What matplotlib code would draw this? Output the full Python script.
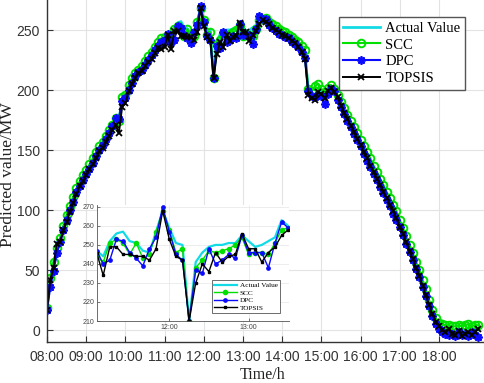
import matplotlib
matplotlib.use("Agg")
import matplotlib.pyplot as plt
import numpy as np

# time axis: 08:00 .. 19:00, 5 minute steps, in hours
t_start = 8.0
step_min = 5

actual = [17, 42, 56, 66, 75, 85, 94, 101, 109, 117, 122, 127, 131, 136, 141, 146, 151, 155, 160, 165,
          169, 176, 174, 193, 194, 202, 208, 213, 216, 218, 222, 226, 230, 234, 238, 240, 241,
          247, 244, 252, 256, 257, 252, 251, 247, 246, 257, 268, 259, 251, 250, 210, 241, 246, 249, 250,
          250, 251, 251, 255, 252, 249, 250, 252, 254, 263, 260,
          258, 255, 253, 251, 249, 248, 246, 244, 242, 240, 237, 234, 229,
          200, 197, 196, 200, 199, 195, 200, 203, 200, 194, 187, 181, 176, 171, 166, 160,
          155, 150, 144, 139, 133, 128, 122, 117, 111, 106, 100, 95,
          88, 81, 74, 67, 60, 53, 45, 38, 29, 21, 13, 7,
          4, 2, 1, 0, 0, 0, 0, 0, 0, 0, 0, 0, 0]

scc = [18, 43, 57, 68, 77, 87, 96, 103, 111, 118, 124, 129, 133, 138, 143, 148, 153, 157, 162, 167,
       171, 177, 174, 194, 196, 204, 210, 214, 217, 220, 224, 228, 232, 236, 240, 243, 244,
       244, 241, 251, 253, 251, 245, 251, 243, 245, 257, 268, 258, 246, 248, 210, 238, 242, 247, 246,
       247, 248, 250, 254, 245, 246, 246, 245, 251, 258, 259,
       260, 257, 255, 253, 251, 249, 248, 246, 244, 242, 240, 237, 233,
       201, 199, 203, 205, 201, 198, 202, 204, 201, 196, 190, 185, 179, 174, 169, 164,
       158, 153, 148, 143, 137, 132, 126, 121, 115, 110, 104, 99,
       92, 85, 78, 71, 64, 57, 50, 42, 34, 25, 17, 10,
       6, 5, 4, 4, 3, 3, 4, 3, 4, 5, 3, 4, 4]

dpc = [17, 36, 49, 64, 73, 83, 92, 100, 107, 115, 120, 125, 130, 134, 139, 145, 150, 154, 159, 164,
       170, 177, 176, 191, 193, 200, 206, 212, 215, 217, 221, 225, 229, 233, 237, 240, 242,
       247, 240, 242, 253, 252, 246, 243, 239, 248, 254, 270, 257, 245, 242, 210, 237, 235, 248, 240,
       242, 245, 243, 255, 246, 246, 246, 238, 251, 262, 259,
       259, 254, 252, 249, 247, 246, 244, 243, 240, 238, 236, 232, 227,
       199, 195, 194, 196, 195, 188, 197, 201, 199, 192, 186, 180, 174, 169, 163, 158,
       153, 147, 141, 136, 130, 125, 119, 114, 108, 103, 97, 92,
       86, 79, 72, 65, 58, 51, 44, 36, 28, 20, 12, 5,
       1, -2, -3, -4, -3, -5, -2, -4, -3, -5, -2, -4, -6]

topsis = [17, 42, 52, 72, 73, 83, 90, 98, 106, 113, 120, 124, 129, 134, 138, 143, 149, 152, 157, 162,
          167, 171, 164, 186, 189, 199, 205, 210, 214, 216, 220, 223, 226, 231, 235, 234, 236,
          246, 234, 249, 249, 245, 245, 244, 244, 242, 248, 268, 253, 244, 242, 210, 230, 240, 236, 246,
          241, 244, 245, 256, 248, 248, 241, 246, 249, 255, 258,
          257, 255, 252, 250, 248, 246, 245, 243, 241, 239, 236, 232, 226,
          196, 193, 192, 198, 197, 193, 199, 202, 198, 194, 187, 181, 176, 170, 165, 159,
          154, 148, 143, 137, 132, 126, 121, 115, 110, 104, 99, 93,
          86, 80, 73, 66, 59, 52, 45, 37, 29, 21, 13, 7,
          3, 0, -2, 1, -3, -4, -1, -5, -3, -2, -4, -2, 1]

labels = ["Actual Value", "SCC", "DPC", "TOPSIS"]
hour_ticks = list(range(8, 19))
inset_from, inset_to = 37, 67   # 11:05 .. 13:30

t = t_start + np.arange(len(actual)) * step_min / 60.0

c_act = "#12dbe6"
c_scc = "#00e000"
c_dpc = "#0a0aff"
c_top = "black"
axcol = "#333333"
asterisk = (8, 2, 0)  # matlab-like '*' marker

plt.rcParams["font.family"] = ["Liberation Sans", "DejaVu Sans"]
serif = ["Liberation Serif", "DejaVu Serif"]

fig = plt.figure(figsize=(4.84, 3.83), dpi=100)
ax = fig.add_axes([47 / 484, 1 - 342 / 383, 437 / 484, 342 / 383])

ax.plot(t, actual, color=c_act, lw=2.0, label=labels[0])
ax.plot(t, scc, color=c_scc, lw=1.5, marker="o", ms=5.5, mfc="none", mew=1.4, label=labels[1])
ax.plot(t, dpc, color=c_dpc, lw=1.5, marker=asterisk, ms=6, mew=1.3, label=labels[2])
ax.plot(t, topsis, color=c_top, lw=1.4, marker="x", ms=4.5, mew=1.3, label=labels[3])

ax.set_xlim(8.0, 19.15)
ax.set_ylim(-10, 275)
ax.set_xticks(hour_ticks)
ax.set_xticklabels(["%02d:00" % h for h in hour_ticks])
ax.set_yticks(range(0, 251, 50))
ax.tick_params(direction="in", labelsize=10, colors=axcol, length=4, width=0.8)
ax.tick_params(axis="x", pad=6)
ax.tick_params(axis="y", pad=5)
ax.grid(True, color="#e3e3e3", lw=0.8)
ax.set_axisbelow(True)
for s in ["top", "right"]:
    ax.spines[s].set_visible(False)
for s in ["left", "bottom"]:
    ax.spines[s].set_color(axcol)
    ax.spines[s].set_linewidth(1.0)

ax.set_ylabel("Predicted value/MW", family=serif, fontsize=12.5, color="#222222")
ax.yaxis.set_label_coords(-0.071, 0.49)
ax.set_xlabel("Time/h", family=serif, fontsize=11.5, color="#222222")
ax.xaxis.set_label_coords(0.494, -0.072)
ax.xaxis.label.set_va("top")

leg = ax.legend(loc="upper right", bbox_to_anchor=(0.9565, 0.950), borderaxespad=0,
                prop={"family": serif, "size": 10.5}, fancybox=False, framealpha=1,
                edgecolor="#555555", handlelength=2.5, handletextpad=0.4,
                labelspacing=0.25, borderpad=0.3)
leg.get_frame().set_linewidth(1.0)

# inset zoom of the midday part
ax2 = fig.add_axes([97 / 484, 1 - 321 / 383, 192 / 484, 116 / 383])
sl = slice(inset_from, inset_to)
ax2.plot(t[sl], actual[sl], color=c_act, lw=1.6, label=labels[0])
ax2.plot(t[sl], scc[sl], color=c_scc, lw=1.0, marker="o", ms=3, label=labels[1])
ax2.plot(t[sl], dpc[sl], color=c_dpc, lw=1.0, marker="o", ms=2.4, label=labels[2])
ax2.plot(t[sl], topsis[sl], color=c_top, lw=1.0, marker="s", ms=1.8, label=labels[3])
ax2.set_xlim(t[inset_from] + 0.005, t[inset_to - 1] + 0.01)
ax2.set_ylim(210, 271)
ax2.set_xticks([12, 13])
ax2.set_xticklabels(["12:00", "13:00"])
ax2.set_yticks(range(210, 271, 10))
ax2.tick_params(direction="in", labelsize=5, colors="#444444", length=2, width=0.5, pad=2)
ax2.grid(True, color="#e6e6e6", lw=0.5)
ax2.set_axisbelow(True)
for s in ["top", "right"]:
    ax2.spines[s].set_visible(False)
for s in ["left", "bottom"]:
    ax2.spines[s].set_color("#555555")
    ax2.spines[s].set_linewidth(0.6)
leg2 = ax2.legend(loc="lower right", bbox_to_anchor=(0.953, 0.069), borderaxespad=0,
                  prop={"family": serif, "size": 5.2}, fancybox=False, framealpha=1,
                  edgecolor="#555555", handlelength=3.2, handletextpad=0.4,
                  labelspacing=0.2, borderpad=0.3)
leg2.get_frame().set_linewidth(0.6)

fig.savefig("out.png", dpi=100)
